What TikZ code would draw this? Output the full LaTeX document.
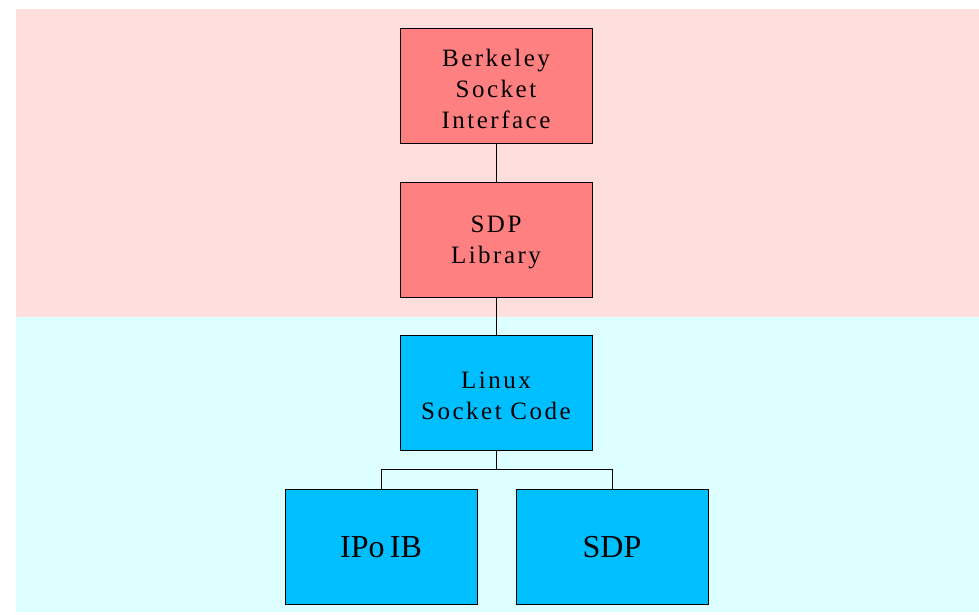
\documentclass[tikz,border=0pt]{standalone}
\usepackage{fontspec}
\setmainfont{Liberation Serif}[LetterSpace=10]
\newfontfamily\bigserif{Liberation Serif}
\definecolor{userbg}{RGB}{255,222,222}
\definecolor{kernbg}{RGB}{222,255,255}
\definecolor{userbox}{RGB}{255,128,128}
\definecolor{kernbox}{RGB}{0,191,255}
% centred multi-line label, set a little lower than the box centre
\newcommand{\boxtext}[1]{\raisebox{-3pt}[\height][\depth]{\parbox{180pt}{\centering #1}}}
\begin{document}
\begin{tikzpicture}[x=1pt,y=-1pt,
  blk/.style={draw=black, line width=0.8pt, minimum width=192pt, minimum height=115pt,
    inner sep=0pt, align=center, font=\fontsize{25}{31}\selectfont},
  ublk/.style={blk, fill=userbox},
  kblk/.style={blk, fill=kernbox},
  bigblk/.style={kblk, font=\bigserif\fontsize{32}{36}\selectfont},
  wire/.style={draw=black, line width=0.8pt}]
  \useasboundingbox (0,0) rectangle (979,614);
  % user-space and kernel-space bands
  \fill[userbg] (16,9) rectangle (979,317);
  \fill[kernbg] (16,317) rectangle (979,612);
  % blocks
  \node[ublk] (bsi) at (496,85.5) {\boxtext{Berkeley\\Socket\\Interface}};
  \node[ublk] (lib) at (496,239.5) {\boxtext{SDP\\Library}};
  \node[kblk] (lsc) at (496,392.5) {\boxtext{Linux\\Socket Code}};
  \node[bigblk] (ipoib) at (381,547) {IPo\,IB};
  \node[bigblk] (sdp) at (612,547) {SDP};
  \coordinate (fork) at (496,469);
  % connections
  \draw[wire] (bsi.south) -- (lib.north);
  \draw[wire] (lib.south) -- (lsc.north);
  \draw[wire] (lsc.south) -- (fork);
  \draw[wire] (fork) -| (ipoib.north);
  \draw[wire] (fork) -| (sdp.north);
\end{tikzpicture}
\end{document}
